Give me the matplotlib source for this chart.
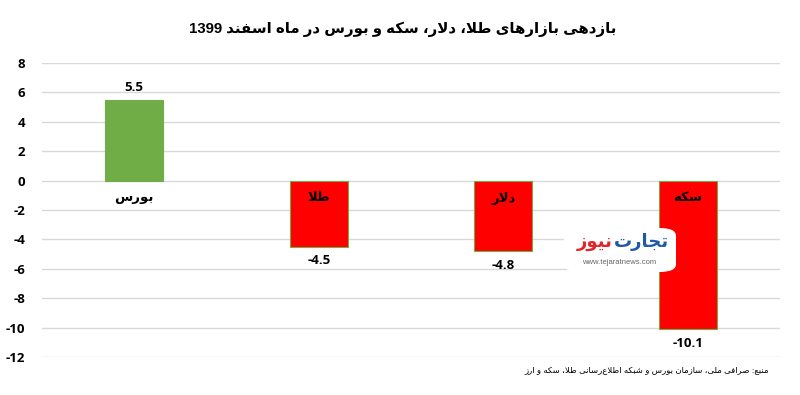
import re
import matplotlib
matplotlib.use("Agg")
import matplotlib.pyplot as plt
from matplotlib.patches import FancyBboxPatch

# data
markets = ["بورس", "طلا", "دلار", "سکه"]
returns = [5.5, -4.5, -4.8, -10.1]
yticks = [8, 6, 4, 2, 0, -2, -4, -6, -8, -10, -12]

title = "بازدهی بازارهای طلا، دلار، سکه و بورس در ماه اسفند 1399"
source = "منبع: صرافی ملی، سازمان بورس و شبکه اطلاع\u200cرسانی طلا، سکه و ارز"

# matplotlib has no arabic shaping, so do it by hand with presentation forms
FORMS = {
    "ا": ("\uFE8D", "\uFE8E"),
    "ب": ("\uFE8F", "\uFE90", "\uFE91", "\uFE92"),
    "ت": ("\uFE95", "\uFE96", "\uFE97", "\uFE98"),
    "ج": ("\uFE9D", "\uFE9E", "\uFE9F", "\uFEA0"),
    "د": ("\uFEA9", "\uFEAA"),
    "ر": ("\uFEAD", "\uFEAE"),
    "ز": ("\uFEAF", "\uFEB0"),
    "س": ("\uFEB1", "\uFEB2", "\uFEB3", "\uFEB4"),
    "ش": ("\uFEB5", "\uFEB6", "\uFEB7", "\uFEB8"),
    "ص": ("\uFEB9", "\uFEBA", "\uFEBB", "\uFEBC"),
    "ط": ("\uFEC1", "\uFEC2", "\uFEC3", "\uFEC4"),
    "ع": ("\uFEC9", "\uFECA", "\uFECB", "\uFECC"),
    "ف": ("\uFED1", "\uFED2", "\uFED3", "\uFED4"),
    "ق": ("\uFED5", "\uFED6", "\uFED7", "\uFED8"),
    "ک": ("\uFB8E", "\uFB8F", "\uFB90", "\uFB91"),
    "ل": ("\uFEDD", "\uFEDE", "\uFEDF", "\uFEE0"),
    "م": ("\uFEE1", "\uFEE2", "\uFEE3", "\uFEE4"),
    "ن": ("\uFEE5", "\uFEE6", "\uFEE7", "\uFEE8"),
    "ه": ("\uFEE9", "\uFEEA", "\uFEEB", "\uFEEC"),
    "و": ("\uFEED", "\uFEEE"),
    "ی": ("\uFBFC", "\uFBFD", "\uFBFE", "\uFBFF"),
}


def fa(text):
    out = []
    n = len(text)
    i = 0
    while i < n:
        c = text[i]
        if c not in FORMS:
            out.append(c)
            i += 1
            continue
        prev = text[i - 1] if i > 0 else None
        prev_conn = prev in FORMS and len(FORMS[prev]) == 4
        if c == "ل" and i + 1 < n and text[i + 1] == "ا":
            out.append("\uFEFC" if prev_conn else "\uFEFB")
            i += 2
            continue
        nxt = text[i + 1] if i + 1 < n else None
        next_conn = nxt in FORMS and len(FORMS[c]) == 4
        f = FORMS[c]
        if prev_conn and next_conn:
            g = f[3]
        elif prev_conn:
            g = f[1]
        elif next_conn:
            g = f[2]
        else:
            g = f[0]
        out.append(g)
        i += 1
    s = "".join(out).replace("\u200c", "")
    tokens = re.findall(r"[0-9A-Za-z.\-]+|[^0-9A-Za-z.\-]", s)
    return "".join(reversed(tokens))


fam = ["Liberation Sans", "DejaVu Sans"]
numfam = ["Open Sans", "DejaVu Sans"]

fig = plt.figure(figsize=(8, 3.95), dpi=100)
ax = fig.add_axes([0.0525, 0.0962, 0.9225, 0.7443])

x = list(range(len(markets)))
colors = ["#70AD47" if v > 0 else "#FF0000" for v in returns]
ax.bar(x, returns, width=0.314, color=colors, edgecolor="#70AD47", linewidth=0.8, zorder=3)

for xi, v, name in zip(x, returns, markets):
    ax.text(xi, -1.2, fa(name), ha="center", va="center", fontsize=9.5,
            fontweight="bold", family=fam, zorder=4)
    ly = v + 0.8 if v > 0 else v - 0.95
    ax.text(xi, ly, f"{v:.1f}", ha="center", va="center", fontsize=9.5,
            fontweight="bold", family=numfam, zorder=4)

ax.set_xlim(-0.5, len(markets) - 0.5)
ax.set_ylim(-12, 8)
ax.set_yticks(yticks)
ax.set_yticklabels([str(t) for t in yticks], fontsize=9.5, fontweight="bold", family=numfam)
ax.set_xticks([])
ax.tick_params(axis="y", length=0, pad=12)
ax.grid(axis="y", color="#d9d9d9", linewidth=1, zorder=0)
for s in ax.spines.values():
    s.set_visible(False)

fig.text(0.503, 0.925, fa(title), ha="center", va="center", fontsize=10.8,
         fontweight="bold", family=fam)
fig.text(0.961, 0.063, fa(source), ha="right", va="center", fontsize=6.1, family=fam)

# watermark
box = FancyBboxPatch((564 / 800, 1 - 272 / 395), 112 / 800, 44 / 395,
                     boxstyle="round,pad=0,rounding_size=0.02", transform=fig.transFigure,
                     facecolor="white", edgecolor="none", zorder=10)
fig.patches.append(box)
fig.text(669 / 800, 1 - 242 / 395, fa("تجارت"), ha="right", va="center", fontsize=13,
         fontweight="bold", color="#1f5aa6", family=fam, zorder=11)
fig.text(613 / 800, 1 - 242 / 395, fa("نیوز"), ha="right", va="center", fontsize=13,
         fontweight="bold", color="#e0262c", family=fam, zorder=11)
fig.text(619 / 800, 1 - 262 / 395, "www.tejaratnews.com", ha="center", va="center",
         fontsize=5.5, color="#666666", family=fam, zorder=11)

fig.savefig("out.png", dpi=100)
